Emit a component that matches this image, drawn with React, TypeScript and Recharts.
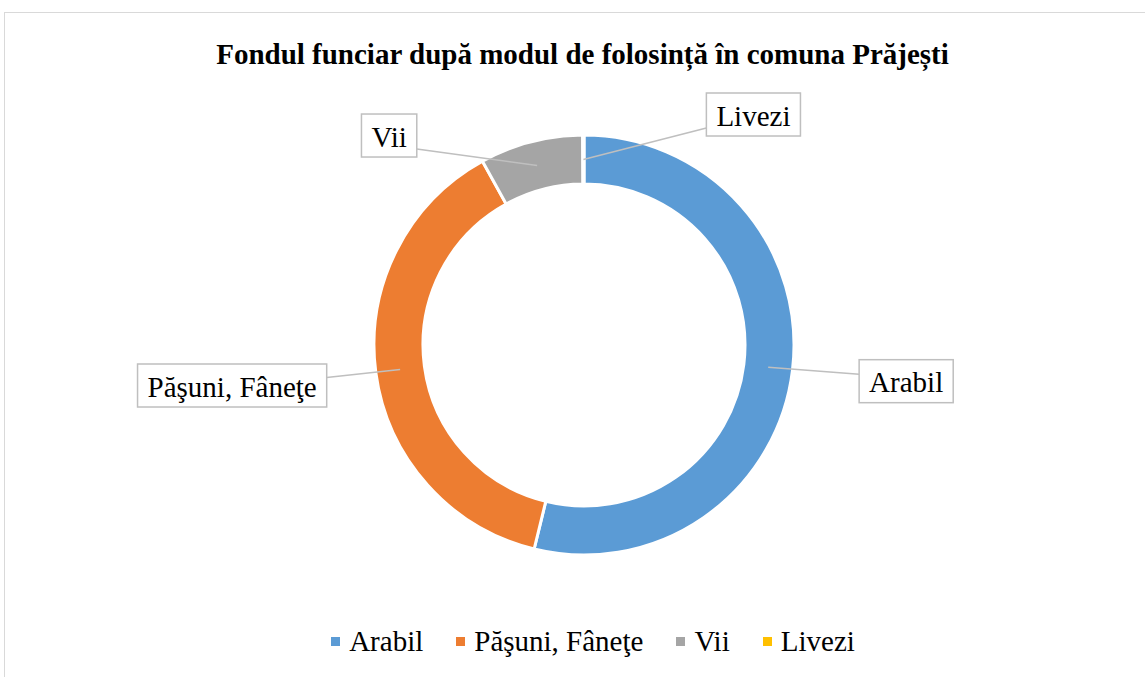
import React from "react";
import { PieChart, Pie, Cell } from "recharts";

const categories = ["Arabil", "Păşuni, Fâneţe", "Vii", "Livezi"];
const shares = [53.6, 38.0, 7.9, 0.1];
const colors = ["#5B9BD5", "#ED7D31", "#A5A5A5", "#FFC000"];

// where each callout box sits, relative to its anchor on the ring
const calloutOffsets = [
  { dx: 138, dy: 14 },
  { dx: -168, dy: 16 },
  { dx: -148, dy: -30 },
  { dx: 170, dy: -45 },
];

const data = categories.map((name, i) => ({ name, value: shares[i] }));

const FONT = "'Liberation Serif', 'Times New Roman', serif";
const LABEL_SIZE = 29;
const RADIAN = Math.PI / 180;

let ctx: CanvasRenderingContext2D | null = null;
const textWidth = (s: string, size: number) => {
  if (!ctx) ctx = document.createElement("canvas").getContext("2d");
  if (!ctx) return s.length * size * 0.45;
  ctx.font = `${size}px ${FONT}`;
  return ctx.measureText(s).width;
};

const renderCallout = ({ cx, cy, midAngle, innerRadius, outerRadius, index, name }: any) => {
  const r = (innerRadius + outerRadius) / 2;
  const ax = cx + r * Math.cos(-midAngle * RADIAN);
  const ay = cy + r * Math.sin(-midAngle * RADIAN);
  const off = calloutOffsets[index];
  const bx = ax + off.dx;
  const by = ay + off.dy;
  const w = textWidth(name, LABEL_SIZE) + 20;
  const h = 43;
  const left = bx - w / 2;
  const top = by - h / 2;
  const ex = off.dx > 0 ? left : left + w;
  const ey = Math.min(Math.max((by + ay) / 2, top + 8), top + h - 8);
  return (
    <g key={`callout-${index}`}>
      <line x1={ax} y1={ay} x2={ex} y2={ey} stroke="#BFBFBF" strokeWidth={1.5} />
      <rect x={left} y={top} width={w} height={h} fill="#fff" stroke="#BFBFBF" strokeWidth={1.5} />
      <text
        x={bx}
        y={by + 1}
        textAnchor="middle"
        dominantBaseline="central"
        fontFamily={FONT}
        fontSize={LABEL_SIZE}
        fill="#000"
      >
        {name}
      </text>
    </g>
  );
};

const ChartLegend = () => (
  <div
    style={{
      position: "absolute",
      left: 0,
      top: 625,
      width: 1186,
      display: "flex",
      justifyContent: "center",
      alignItems: "center",
      fontFamily: FONT,
      fontSize: LABEL_SIZE,
      color: "#000",
      gap: 33,
    }}
  >
    {categories.map((c, i) => (
      <span key={c} style={{ display: "flex", alignItems: "center" }}>
        <span style={{ width: 9, height: 9, background: colors[i], marginRight: 9 }} />
        {c}
      </span>
    ))}
  </div>
);

const App: React.FC = () => {
  return (
    <div style={{ position: "absolute", left: 0, top: 0, width: 1145, height: 677, background: "#fff", overflow: "hidden" }}>
      <div
        style={{
          position: "absolute",
          left: 4,
          top: 12,
          width: 1160,
          height: 700,
          border: "1.5px solid #D9D9D9",
        }}
      />
      <div
        style={{
          position: "absolute",
          left: 0,
          top: 38,
          width: 1165,
          textAlign: "center",
          fontFamily: FONT,
          fontWeight: "bold",
          fontSize: 29,
          color: "#000",
        }}
      >
        Fondul funciar după modul de folosință în comuna Prăjești
      </div>
      <div style={{ position: "absolute", left: 0, top: 0 }}>
        <PieChart width={1145} height={677} margin={{ top: 0, right: 0, bottom: 0, left: 0 }}>
          <Pie
            data={data}
            dataKey="value"
            nameKey="name"
            cx={584}
            cy={345}
            innerRadius={161}
            outerRadius={210}
            startAngle={90}
            endAngle={-270}
            stroke="#fff"
            strokeWidth={3}
            label={renderCallout}
            labelLine={false}
            isAnimationActive={false}
          >
            {data.map((entry, index) => (
              <Cell key={`cell-${index}`} fill={colors[index]} />
            ))}
          </Pie>
        </PieChart>
      </div>
      <ChartLegend />
    </div>
  );
};

export default App;
